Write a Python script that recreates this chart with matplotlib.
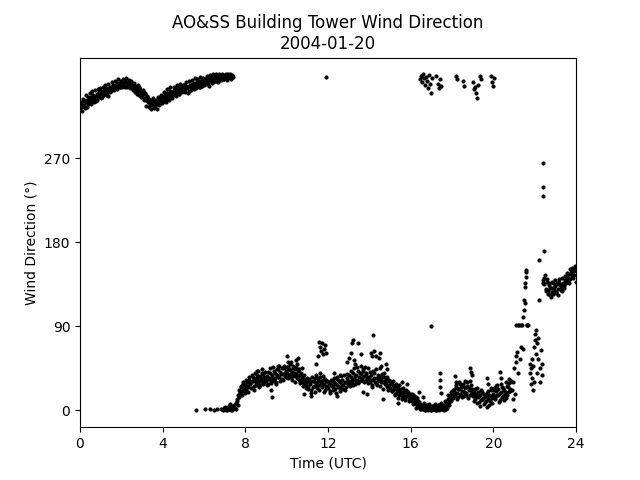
import numpy as np
import matplotlib
matplotlib.use("Agg")
import matplotlib.pyplot as plt

# Series A: early-morning directions near north (0.00 - 7.40 UTC, every 3 min)
a_start, a_step = 0.0, 0.05
a_dir = [
    322,328,325,331,327,324,330,333,328,335,331,336,333,338,334,332,339,336,341,337,
    335,340,338,343,339,345,341,337,344,347,342,346,349,344,348,345,351,347,350,346,
    352,348,351,349,353,347,350,352,348,351,346,349,347,344,348,345,342,346,343,340,
    338,342,335,339,333,336,330,334,328,332,327,331,329,326,333,330,335,331,334,329,
    336,332,338,334,340,336,339,342,337,341,338,343,340,345,341,344,339,346,342,345,
    343,347,344,348,345,342,349,346,350,347,344,351,348,352,349,353,347,350,354,351,
    349,354,352,356,351,355,353,357,354,352,358,355,353,357,359,354,356,358,355,357,
    359,356,358,360,357,359,355,358,357,
]
# Interleaved observations of series A (0.025 - 7.375 UTC)
a2_start = 0.025
a2_dir = [
    330,321,334,326,332,338,325,336,331,340,328,342,335,330,343,337,333,344,339,345,
    342,336,347,340,349,343,338,350,345,341,352,347,343,353,349,344,355,350,346,353,
    347,355,350,346,356,352,348,354,345,353,349,343,351,341,347,339,349,338,344,336,
    343,333,340,326,337,331,325,333,323,330,335,324,332,328,323,336,327,333,338,330,
    331,341,335,330,344,337,333,346,339,335,347,341,337,349,343,339,350,347,341,349,
    349,341,352,346,340,353,348,343,354,350,346,356,345,355,351,347,357,352,348,356,
    355,350,358,353,348,359,356,351,360,357,353,360,356,352,360,358,354,360,357,355,
    356,360,354,359,357,360,356,359,
]

# Series B: low directions (7.00 - 20.85 UTC, every 3 min)
b_start, b_step = 7.0, 0.05
b_dir = [
    2,0,3,1,5,2,0,4,1,6,3,8,12,17,22,19,25,21,28,24,
    27,22,30,25,33,28,31,36,26,34,30,38,29,33,27,35,31,39,30,34,
    32,37,28,35,40,31,36,33,42,35,30,38,44,36,41,34,39,45,37,42,
    40,46,38,43,36,41,48,37,44,39,35,42,33,38,30,36,32,28,34,27,
    30,25,33,28,22,31,26,35,29,24,32,27,36,30,25,33,28,22,31,26,
    24,29,21,27,32,25,30,23,28,34,26,31,24,29,33,27,22,30,35,28,
    32,26,36,30,40,34,28,38,33,42,36,31,39,35,44,37,32,40,34,29,
    36,30,38,27,33,40,29,35,31,37,26,34,39,30,36,28,33,25,31,27,
    24,29,21,27,23,18,26,20,24,17,22,19,15,21,18,14,20,16,12,18,
    15,10,17,12,8,14,6,10,4,7,2,5,1,4,0,3,6,1,4,2,
    0,3,5,1,4,0,2,6,3,1,5,2,0,4,8,3,12,6,15,10,
    18,13,22,16,25,19,14,23,28,17,21,26,15,24,19,30,22,16,27,20,
    15,21,12,18,24,14,9,17,11,20,13,7,16,10,19,12,6,15,22,13,
    18,24,14,21,27,16,11,20,25,15,22,18,13,26,20,29,23,31,
]
# Interleaved observations of series B (7.025 - 20.825 UTC)
b2_start = 7.025
b2_dir = [
    4,1,0,3,2,7,1,0,5,3,2,10,6,14,20,26,16,30,23,19,
    33,26,20,36,29,24,38,32,22,40,27,35,42,25,37,31,44,28,36,41,
    27,41,34,45,29,38,47,32,40,28,44,36,48,31,39,45,33,48,40,36,
    47,35,44,50,39,33,45,40,30,47,37,44,29,40,35,26,38,31,24,35,
    23,34,30,19,36,25,32,20,38,27,35,22,40,31,28,37,20,34,25,32,
    30,19,33,26,22,35,28,19,36,25,31,21,37,27,23,38,30,25,39,32,
    38,29,42,33,27,45,37,31,46,29,40,48,33,42,30,47,38,35,45,32,
    41,33,25,42,35,30,44,27,38,33,45,30,37,23,40,32,28,36,22,33,
    30,21,32,25,17,28,22,13,27,19,23,12,24,17,11,22,15,20,10,16,
    12,18,7,15,11,3,13,5,9,1,6,3,8,0,5,2,0,7,3,0,
    5,1,2,7,0,3,6,0,4,8,1,6,3,10,2,7,17,9,13,20,
    22,15,19,27,12,23,30,18,25,14,28,20,32,17,26,13,24,31,18,23,
    19,10,23,15,8,20,16,5,22,12,18,9,14,4,21,16,10,24,8,17,
    22,12,26,17,23,9,19,28,14,24,11,20,30,17,25,34,21,
]

# Series D: late evening veering (22.40 - 24.00 UTC, every 3 min)
d_start, d_step = 22.4, 0.05
d_dir = [
    140,135,145,130,138,128,134,124,131,127,136,129,133,126,135,130,138,132,128,137,
    133,140,136,143,139,146,141,148,144,150,145,152,138,
]
d2_start = 22.425
d2_dir = [
    137,142,128,141,125,136,131,122,138,125,132,140,127,137,124,141,134,129,142,135,
    131,144,138,147,142,137,151,146,153,142,149,155,
]

# Scattered individual observations (time UTC, direction deg)
extra_time = [
    5.60, 6.05, 6.30, 6.50, 6.65, 6.80, 6.90, 6.95,
    10.00, 10.05, 10.45, 10.50, 10.55, 9.30, 9.25, 11.55, 11.60, 11.65, 11.70, 11.75,
    11.80, 11.85, 11.90, 11.50, 11.40, 12.90, 13.00, 13.10, 13.15, 13.20, 13.25, 13.30,
    13.45, 13.60, 14.10, 14.15, 14.20, 14.25, 14.30, 14.45, 14.50, 14.55, 14.80, 14.85,
    17.00, 17.40, 17.40, 17.40, 17.45, 18.15, 18.20, 18.85, 18.90, 18.95, 19.70, 19.75,
    20.30, 20.35, 16.40, 16.60, 15.60, 15.80, 12.30, 12.60, 9.60, 10.20, 10.75, 8.80,
    8.55, 10.85, 11.20, 12.45, 13.70, 14.65, 15.40, 13.90,
    20.90, 20.93, 20.97, 21.00, 21.02, 21.05, 21.08, 21.10, 21.12, 21.15, 21.18, 21.20,
    21.25, 21.28, 21.32, 21.35, 21.38, 21.42, 21.45, 21.47, 21.50, 21.52, 21.53, 21.55,
    21.56, 21.58, 21.60, 21.62, 21.65, 21.70, 21.75, 21.78, 21.80, 21.82, 21.85, 21.88,
    21.90, 21.93, 21.95, 21.98, 22.00, 22.02, 22.05, 22.08, 22.10, 22.12, 22.15, 22.18,
    22.20, 22.22, 22.25, 22.28, 22.30, 22.35, 22.40, 22.40, 22.40, 22.45, 22.35,
    16.45, 16.50, 16.55, 16.60, 16.65, 16.70, 16.75, 16.80, 16.85, 16.90, 16.95, 17.00,
    17.05, 17.25, 17.30, 17.35, 17.40, 17.45, 18.20, 18.25, 18.55, 18.60, 19.00, 19.05,
    19.10, 19.15, 19.20, 19.25, 19.35, 19.40, 19.90, 19.95, 20.00, 20.05, 11.90,
]
extra_dir = [
    0, 2, 1, 0, 1, 2, 0, 3,
    58, 52, 54, 50, 56, 14, 22, 73, 68, 64, 72, 60,
    66, 70, 62, 58, 50, 52, 56, 62, 72, 75, 54, 50,
    72, 60, 62, 58, 81, 64, 58, 56, 62, 48, 50, 44,
    90, 40, 33, 25, 19, 37, 30, 45, 41, 38, 35, 28,
    41, 35, 20, 14, 30, 28, 40, 38, 48, 52, 45, 40,
    42, 18, 15, 15, 20, 12, 8, 18,
    22, 12, 30, 0, 45, 18, 58, 91, 52, 63, 91, 40,
    91, 55, 91, 68, 91, 66, 100, 108, 118, 115, 132, 137,
    143, 148, 150, 91, 91, 91, 50, 40, 28, 45, 35, 55,
    22, 48, 68, 30, 75, 82, 86, 60, 72, 40, 78, 55,
    118, 161, 45, 30, 65, 50, 265, 239, 230, 171, 38,
    355, 358, 352, 360, 356, 349, 357, 353, 345, 359, 350, 340,
    356, 358, 350, 345, 355, 348, 358, 355, 353, 348, 352, 344,
    347, 340, 335, 349, 358, 355, 358, 352, 348, 356, 357,
]

a_time = a_start + a_step * np.arange(len(a_dir))
a2_time = a2_start + a_step * np.arange(len(a2_dir))
b_time = b_start + b_step * np.arange(len(b_dir))
b2_time = b2_start + b_step * np.arange(len(b2_dir))
d_time = d_start + d_step * np.arange(len(d_dir))
d2_time = d2_start + d_step * np.arange(len(d2_dir))

times = np.concatenate([a_time, a2_time, b_time, b2_time, d_time, d2_time, extra_time])
dirs = np.concatenate([a_dir, a2_dir, b_dir, b2_dir, d_dir, d2_dir, extra_dir])

fig, ax = plt.subplots(figsize=(6.4, 4.8), dpi=100)
ax.plot(times, dirs, 'k.', markersize=4)
ax.set_xlim(0, 24)
ax.set_ylim(-18, 378)
ax.set_xticks([0, 4, 8, 12, 16, 20, 24])
ax.set_yticks([0, 90, 180, 270])
ax.set_xlabel('Time (UTC)')
ax.set_ylabel('Wind Direction (°)')
ax.set_title('AO&SS Building Tower Wind Direction\n2004-01-20')
fig.savefig('out.png', dpi=100)
